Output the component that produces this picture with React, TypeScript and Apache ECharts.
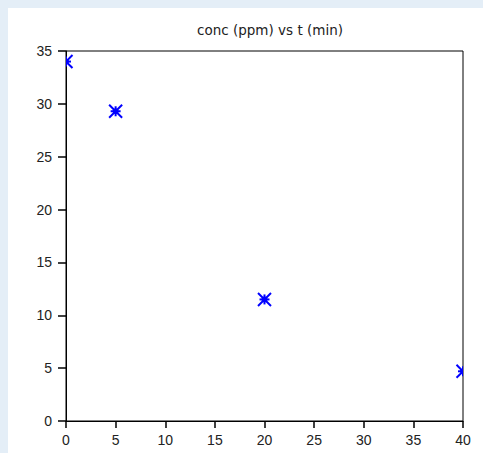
import React, { useEffect, useRef } from "react";
import * as echarts from "echarts";

const tValues = [0, 5, 20, 40];
const concValues = [34, 29.3, 11.5, 4.7];
const xTicks = { min: 0, max: 40, interval: 5 };
const yTicks = { min: 0, max: 35, interval: 5 };
const titleText = "conc (ppm) vs t (min)";

export default function App() {
  const ref = useRef<HTMLDivElement>(null);
  useEffect(() => {
    document.body.style.margin = "0";
    const chart = echarts.init(ref.current!, null, { renderer: "svg" });
    const data = tValues.map((t, i) => [t, concValues[i]]);
    const R = 5;
    const D = 6.5;
    chart.setOption({
      animation: false,
      backgroundColor: "#ffffff",
      title: {
        text: titleText,
        left: 257,
        top: 10,
        textAlign: "center",
        textStyle: {
          fontFamily: "DejaVu Sans, sans-serif",
          fontSize: 13.5,
          fontWeight: "normal",
          color: "#222",
        },
      },
      grid: {
        left: 58,
        top: 43,
        right: 20,
        bottom: 32,
        show: true,
        borderColor: "#000",
        borderWidth: 1,
        backgroundColor: "transparent",
      },
      xAxis: {
        type: "value",
        min: xTicks.min,
        max: xTicks.max,
        interval: xTicks.interval,
        splitLine: { show: false },
        axisLine: { show: true, onZero: false, lineStyle: { color: "#000", width: 1 } },
        axisTick: { show: true, length: 7, lineStyle: { color: "#000", width: 1.5 } },
        axisLabel: {
          margin: 12,
          color: "#222",
          fontSize: 14,
          fontFamily: "Liberation Sans, Arial, sans-serif",
          showMinLabel: true,
          showMaxLabel: true,
        },
      },
      yAxis: {
        type: "value",
        min: yTicks.min,
        max: yTicks.max,
        interval: yTicks.interval,
        splitLine: { show: false },
        axisLine: { show: true, onZero: false, lineStyle: { color: "#000", width: 1 } },
        axisTick: { show: true, length: 8, lineStyle: { color: "#000", width: 1.5 } },
        axisLabel: {
          margin: 14,
          color: "#222",
          fontSize: 14,
          fontFamily: "Liberation Sans, Arial, sans-serif",
          showMinLabel: true,
          showMaxLabel: true,
        },
      },
      series: [
        {
          type: "custom",
          data,
          clip: true,
          renderItem: (params: any, api: any) => {
            const p = api.coord([api.value(0), api.value(1)]);
            const x = p[0];
            const y = p[1];
            const st = { stroke: "#0000ff", lineWidth: 2 };
            return {
              type: "group",
              children: [
                { type: "line", shape: { x1: x - R, y1: y, x2: x + R, y2: y }, style: st },
                { type: "line", shape: { x1: x, y1: y - R, x2: x, y2: y + R }, style: st },
                { type: "line", shape: { x1: x - D, y1: y - D, x2: x + D, y2: y + D }, style: st },
                { type: "line", shape: { x1: x - D, y1: y + D, x2: x + D, y2: y - D }, style: st },
                { type: "circle", shape: { cx: x, cy: y, r: 3 }, style: { fill: "#0000ff" } },
              ],
            };
          },
        },
      ],
    });
    return () => chart.dispose();
  }, []);
  return (
    <div
      style={{
        position: "relative",
        width: 483,
        height: 453,
        background: "#e4eef7",
        overflow: "hidden",
      }}
    >
      <div
        ref={ref}
        style={{ position: "absolute", left: 8, top: 8, width: 475, height: 445 }}
      />
    </div>
  );
}
